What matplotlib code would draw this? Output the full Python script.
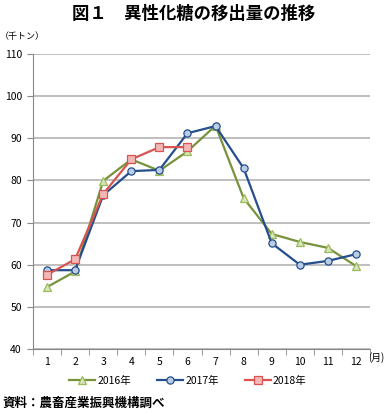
import matplotlib
matplotlib.use('Agg')
import matplotlib.pyplot as plt
import numpy as np

plt.rcParams['font.family'] = ['Noto Sans CJK JP', 'DejaVu Sans']

months = [1, 2, 3, 4, 5, 6, 7, 8, 9, 10, 11, 12]
y2016 = [54.7, 58.4, 79.9, 85.0, 82.3, 86.9, 93.0, 75.8, 67.3, 65.4, 64.0, 59.7]
y2017 = [58.7, 58.7, 76.5, 82.2, 82.5, 91.2, 92.9, 82.9, 65.1, 60.0, 60.9, 62.5]
y2018 = [57.6, 61.3, 76.8, 85.0, 87.9, 87.9]

fig = plt.figure(figsize=(3.87, 4.13), dpi=100)
ax = fig.add_axes([33/387, 1-349/413, 337/387, 295/413])

ax.plot(months, y2016, color='#77933C', lw=1.6, marker='^', ms=5.5,
        mfc='#D7E4BD', mec='#9BBB59', mew=0.9, label='2016年', zorder=3)
ax.plot(months, y2017, color='#254E8C', lw=1.6, marker='o', ms=5.2,
        mfc='#B9CDE5', mec='#254E8C', mew=0.9, label='2017年', zorder=4)
ax.plot(months[:len(y2018)], y2018, color='#D9534F', lw=1.6, marker='s', ms=5.2,
        mfc='#F2B8B7', mec='#D9534F', mew=0.9, label='2018年', zorder=5)

ax.set_xlim(0.5, 12.5)
ax.set_ylim(40, 110)
ax.set_yticks(np.arange(40, 111, 10))
ax.set_xticks(months)
ax.set_xticks(np.arange(0.5, 12.6, 1), minor=True)
ax.tick_params(axis='x', which='major', length=0, labelsize=7.5, pad=6)
ax.tick_params(axis='x', which='minor', length=4, color='#888888', direction='out')
ax.tick_params(axis='y', length=4, color='#888888', labelsize=7.5, pad=4)
ax.yaxis.grid(True, color='#B4B4B4', lw=1.2)
ax.set_axisbelow(True)
for s in ['top', 'right']:
    ax.spines[s].set_visible(False)
for s in ['left', 'bottom']:
    ax.spines[s].set_color('#888888')

fig.text(0.5, 1-14/413, '図１　異性化糖の移出量の推移', ha='center', va='center',
         fontsize=12.5, fontweight='bold')
fig.text(0/387, 1-37/413, '（千トン）', ha='left', va='center', fontsize=6.5)
fig.text(368/387, 1-358/413, '(月)', ha='left', va='center', fontsize=7)
fig.text(3/387, 1-403/413, '資料：農畜産業振興機構調べ', ha='left', va='center',
         fontsize=9, fontweight='bold')

fig.legend(*ax.get_legend_handles_labels(), loc='center',
           bbox_to_anchor=(188/387, 1-381/413), ncol=3, frameon=False,
           fontsize=7.5, handlelength=2.5, columnspacing=2.5, handletextpad=0.2)

fig.savefig('out.png', dpi=100)
